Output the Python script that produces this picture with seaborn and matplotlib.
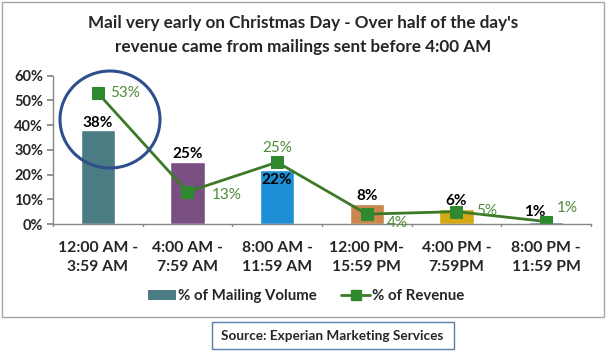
import matplotlib
matplotlib.use("Agg")
import matplotlib.pyplot as plt
from matplotlib.patches import Rectangle, Ellipse, Patch
from matplotlib.lines import Line2D
import seaborn as sns
import pandas as pd

categories = ["12:00 AM -\n3:59 AM", "4:00 AM -\n7:59 AM", "8:00 AM -\n11:59 AM",
              "12:00 PM-\n15:59 PM", "4:00 PM -\n7:59PM", "8:00 PM -\n11:59 PM"]
mailing_volume = [0.38, 0.25, 0.22, 0.08, 0.06, 0.01]
revenue = [0.53, 0.13, 0.25, 0.04, 0.05, 0.01]
bar_labels = ["38%", "25%", "22%", "8%", "6%", "1%"]
rev_labels = ["53%", "13%", "25%", "4%", "5%", "1%"]
y_ticks = [0, 0.1, 0.2, 0.3, 0.4, 0.5, 0.6]
y_tick_labels = ["0%", "10%", "20%", "30%", "40%", "50%", "60%"]

bar_colors = ["#4B7B83", "#7A5082", "#1E8FD6", "#C8874E", "#D4A915", "#3F6F8E"]
green = "#3C7A28"
marker_green = "#2F8A2F"

sns.set_theme(style="white")
plt.rcParams['font.family'] = ['Lato', 'DejaVu Sans']

fig = plt.figure(figsize=(6.08, 3.51), dpi=100)
ax = fig.add_axes([53/608, (351-224)/351, (591-53)/608, (224-75.7)/351])

df = pd.DataFrame({"cat": categories, "vol": mailing_volume})
sns.barplot(data=df, x="cat", y="vol", hue="cat", palette=bar_colors, width=0.38,
            legend=False, ax=ax, saturation=1)
sns.lineplot(x=list(range(len(categories))), y=revenue, ax=ax, color=green, lw=2,
             marker="s", markersize=8, markerfacecolor=marker_green,
             markeredgecolor=marker_green)

ax.set_xlim(-0.5, 5.5)
ax.set_ylim(0, 0.6)
ax.set_yticks(y_ticks)
ax.set_yticklabels(y_tick_labels, fontsize=10.5, fontweight="bold")
ax.set_xticks(range(len(categories)))
ax.set_xticklabels(categories, fontsize=11.3, fontweight="bold", linespacing=1.45)
ax.tick_params(axis="x", length=0, pad=12)
ax.tick_params(axis="y", left=True, length=4, color="#868686", pad=3)
for b in [i + 0.5 for i in range(-1, 6)]:
    ax.plot([b, b], [0, -0.008], color="#868686", lw=1, clip_on=False)
ax.set_xlabel("")
ax.set_ylabel("")
for s in ["top", "right"]:
    ax.spines[s].set_visible(False)
for s in ["left", "bottom"]:
    ax.spines[s].set_color("#868686")
    ax.spines[s].set_linewidth(1)

# bar labels (pixel offsets, y up)
bar_offsets = [(0, 0), (0, 1), (0, -17), (0, 1), (0, 1), (-11, 3)]
for i, (v, t) in enumerate(zip(mailing_volume, bar_labels)):
    dx, dy = bar_offsets[i]
    ax.annotate(t, (i, v), xytext=(dx, dy), textcoords="offset pixels",
                ha="center", va="bottom", fontsize=11, fontweight="bold", color="black")

# revenue labels (pixel offsets, y up)
rev_offsets = [(12, 0, "left"), (24, -3, "left"), (0, 14, "center"),
               (20, -9, "left"), (20, 1, "left"), (11, 14, "left")]
for i, (v, t) in enumerate(zip(revenue, rev_labels)):
    dx, dy, ha = rev_offsets[i]
    ax.annotate(t, (i, v), xytext=(dx, dy), textcoords="offset pixels",
                ha=ha, va="center", fontsize=11, color="#4E8A3A")

# highlight circle
circ = Ellipse((110/608, (351-119.5)/351), 100/608, 97/351, transform=fig.transFigure,
               fill=False, edgecolor="#2E4F8C", lw=2.2)
fig.add_artist(circ)

# legend
handles = [Patch(facecolor=bar_colors[0], edgecolor="none"),
           Line2D([0], [0], color=green, lw=2, marker="s", markersize=7,
                  markerfacecolor=marker_green, markeredgecolor=marker_green)]
fig.legend(handles, ["% of Mailing Volume", "% of Revenue"], loc="center",
           bbox_to_anchor=(306/608, (351-296)/351), ncol=2, frameon=False,
           handlelength=1.9, handletextpad=0.15, columnspacing=1.6,
           prop={"family": ["Lato", "DejaVu Sans"], "size": 10.8, "weight": "bold"})

# title
fig.text(303/608, (351-23)/351, "Mail very early on Christmas Day - Over half of the day's",
         ha="center", va="center", fontsize=12.3, fontweight="bold")
fig.text(303/608, (351-47)/351, "revenue came from mailings sent before 4:00 AM",
         ha="center", va="center", fontsize=12.3, fontweight="bold")

# outer border
fig.add_artist(Rectangle((2/608, (351-317)/351), 602/608, 315/351,
                         transform=fig.transFigure, fill=False,
                         edgecolor="#A6A6A6", lw=1))
# source box
fig.add_artist(Rectangle((212/608, (351-349)/351), 242/608, 27/351,
                         transform=fig.transFigure, facecolor="white",
                         edgecolor="#5B7BA8", lw=1))
fig.text(332/608, (351-335.5)/351, "Source: Experian Marketing Services",
         ha="center", va="center", fontsize=9.8, fontweight="bold")

fig.savefig("out.png", dpi=100)
